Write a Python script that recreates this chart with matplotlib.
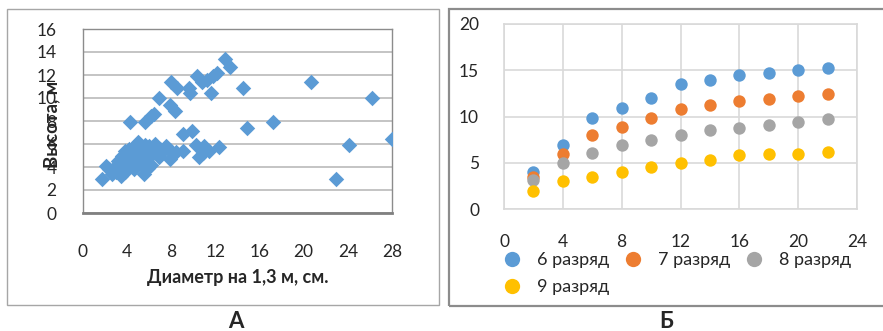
import matplotlib
matplotlib.use("Agg")
import matplotlib.pyplot as plt
from matplotlib.patches import Rectangle
from matplotlib.lines import Line2D

plt.rcParams['font.family'] = ['Lato', 'DejaVu Sans']

# --- Panel A: tree height vs. stem diameter ---
diam = [12.9, 13.3, 10.3, 10.8, 11.2, 11.8, 12.1, 11.6, 8.0, 8.5, 9.6, 9.7, 14.5, 20.7,
        26.2, 6.9, 7.9, 8.3, 4.3, 5.6, 6.2, 6.4, 14.9, 17.2, 9.1, 9.9, 28.0, 24.1, 22.9,
        10.2, 9.1, 10.5, 11.4, 12.3, 7.5, 7.9, 7.9, 8.4, 1.7, 2.1, 2.6, 3.0, 3.4, 5.5,
        4.6, 5.9, 6.2, 3.2, 3.5, 3.8, 4.0, 4.2, 4.5, 4.8, 5.0, 5.2, 5.5, 5.8, 6.0, 6.3,
        6.6, 6.9, 7.2, 3.0, 3.6, 4.0, 4.4, 4.7, 5.3, 2.4, 3.8, 5.6, 6.5, 7.0, 10.9, 11.0]
height = [13.4, 12.7, 11.9, 11.4, 11.6, 11.9, 12.2, 10.4, 11.4, 10.9, 10.9, 10.4, 10.9, 11.4,
          10.0, 10.0, 9.4, 8.9, 7.9, 7.9, 8.4, 8.6, 7.4, 7.9, 6.9, 7.1, 6.4, 5.9, 3.0,
          5.9, 5.4, 4.9, 5.4, 5.7, 5.8, 5.5, 4.7, 5.3, 3.0, 4.1, 3.4, 3.6, 3.2, 3.4,
          3.8, 3.9, 4.2, 4.5, 5.0, 5.4, 4.6, 5.6, 5.2, 5.9, 6.2, 5.0, 5.5, 4.7, 5.8, 5.2,
          5.5, 4.9, 5.3, 4.1, 4.3, 3.9, 4.1, 4.5, 4.3, 3.8, 3.6, 5.9, 6.0, 5.6, 5.2, 5.8]
a_xticks = [0, 4, 8, 12, 16, 20, 24, 28]
a_yticks = [0, 2, 4, 6, 8, 10, 12, 14, 16]

# --- Panel Б: height by site class ---
b_x = [2, 4, 6, 8, 10, 12, 14, 16, 18, 20, 22]
class6 = [4.0, 6.9, 9.8, 10.9, 12.0, 13.5, 14.0, 14.5, 14.7, 15.0, 15.2]
class7 = [3.5, 6.0, 8.0, 8.9, 9.8, 10.8, 11.2, 11.7, 11.9, 12.2, 12.4]
class8 = [3.1, 5.0, 6.1, 6.9, 7.5, 8.0, 8.5, 8.8, 9.1, 9.4, 9.7]
class9 = [2.0, 3.0, 3.5, 4.0, 4.5, 5.0, 5.3, 5.8, 6.0, 6.0, 6.2]
b_labels = ['6 разряд', '7 разряд', '8 разряд', '9 разряд']
b_colors = ['#5B9BD5', '#ED7D31', '#A5A5A5', '#FFC000']
b_xticks = [0, 4, 8, 12, 16, 20, 24]
b_yticks = [0, 5, 10, 15, 20]

W, H = 883, 331
fig = plt.figure(figsize=(W / 100, H / 100), dpi=100)


def px_axes(left, top, right, bottom):
    return fig.add_axes([left / W, 1 - bottom / H, (right - left) / W, (bottom - top) / H])


# outer frames
fig.add_artist(Rectangle((7 / W, 1 - 305 / H), (439 - 7) / W, (305 - 9) / H,
                         transform=fig.transFigure, fill=False, ec='#a6a6a6', lw=1.0))
fig.add_artist(Rectangle((448.5 / W, 1 - 306 / H), (900 - 448.5) / W, (306 - 8.5) / H,
                         transform=fig.transFigure, fill=False, ec='#8c8c8c', lw=1.6,
                         clip_on=False))

TXT = '#262626'

# ---- panel A ----
axa = px_axes(83, 29, 392, 213)
axa.scatter(diam, height, marker='D', s=62, color='#5B9BD5', zorder=3, linewidths=0)
axa.set_xlim(0, 28)
axa.set_ylim(0, 16)
axa.set_xticks(a_xticks)
axa.set_yticks(a_yticks)
axa.yaxis.grid(True, color='#bfbfbf', lw=1.3)
axa.set_axisbelow(True)
for side in ['top', 'right', 'left']:
    axa.spines[side].set_color('#8c8c8c')
    axa.spines[side].set_linewidth(1.0)
axa.spines['bottom'].set_color('#808080')
axa.spines['bottom'].set_linewidth(2.0)
axa.tick_params(axis='both', length=0, labelsize=12.5, colors=TXT)
axa.tick_params(axis='x', pad=22)
axa.tick_params(axis='y', pad=19)
axa.set_xlabel('Диаметр на 1,3 м, см.', fontsize=13, fontweight='bold',
               color=TXT, labelpad=7)
fig.text(52 / W, 1 - 124 / H, 'Высота, м', rotation=90, ha='center', va='center',
         fontsize=13.5, fontweight='bold', color=TXT)
fig.text(236 / W, 1 - 322 / H, 'А', ha='center', va='center', fontsize=16,
         fontweight='bold', color=TXT)

# ---- panel Б ----
axb = px_axes(504, 24, 857, 209)
for ys, lab, col in zip([class6, class7, class8, class9], b_labels, b_colors):
    axb.scatter(b_x, ys, s=80, color=col, label=lab, zorder=3, linewidths=0)
axb.set_xlim(0, 24)
axb.set_ylim(0, 20)
axb.set_xticks(b_xticks)
axb.set_yticks(b_yticks)
axb.grid(True, color='#d9d9d9', lw=1.2)
axb.set_axisbelow(True)
for side in axb.spines:
    axb.spines[side].set_color('#d9d9d9')
    axb.spines[side].set_linewidth(1.2)
axb.tick_params(axis='both', length=0, labelsize=12.5, colors=TXT)
axb.tick_params(axis='x', pad=18)
axb.tick_params(axis='y', pad=18)

# legend filled column-wise: order chosen so rows read 6,7,8 / 9
handles = [Line2D([], [], marker='o', ls='', markersize=11, color=c, markeredgewidth=0)
           for c in b_colors]
order = [0, 3, 1, 2]
fig.legend([handles[i] for i in order], [b_labels[i] for i in order],
           loc='upper left', bbox_to_anchor=(503 / W, 1 - 252 / H),
           ncol=3, frameon=False, fontsize=13, handletextpad=0.9, columnspacing=0.8,
           labelspacing=0.6, borderaxespad=0, borderpad=0, handlelength=1.0,
           labelcolor=TXT)
fig.text(666 / W, 1 - 322 / H, 'Б', ha='center', va='center', fontsize=16,
         fontweight='bold', color=TXT)

fig.savefig('out.png', dpi=100)
